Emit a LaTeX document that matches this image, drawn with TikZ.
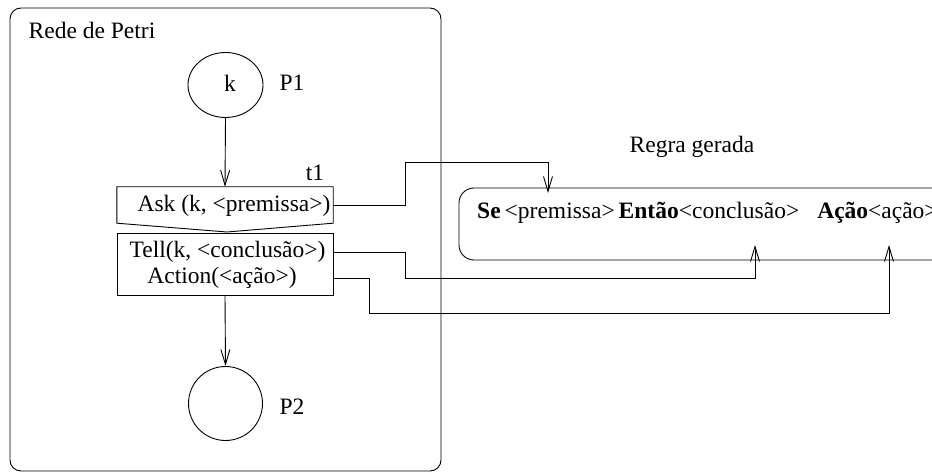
\documentclass[tikz,border=0pt]{standalone}
\usepackage{fontspec}
\setmainfont{Liberation Serif}
\usetikzlibrary{arrows.meta,shapes.geometric}
\begin{document}
\begin{tikzpicture}[x=1pt,y=-1pt,
  every node/.style={font=\fontsize{23.5}{28}\selectfont, inner sep=0pt},
  ln/.style={line width=0.9pt, black},
  arr/.style={ln, -{Straight Barb[length=15pt,width=9pt,line width=0.9pt]}},
  place/.style={draw, ln, circle, minimum size=74pt}]
\useasboundingbox (0,0) rectangle (932,473);
\clip (0,0) rectangle (932,473);

% outer frame
\draw[ln, rounded corners=11pt] (10,8) rectangle (441,471);
\node (title) at (92,30) {Rede de Petri};

% places
\node[draw, ln, ellipse, minimum width=75pt, minimum height=65pt] (p1) at (225.5,85) {};
\node (k) at (230,83) {k};
\node (p1l) at (292,83) {P1};
\node[place] (p2) at (225.5,403.5) {};
\node (p2l) at (292,407) {P2};

% transition
\node[minimum width=216pt, minimum height=36pt] (ask) at (225,205) {};
\draw[ln] (ask.south west) -- (ask.north west) -- (ask.north east) -- (ask.south east) -- (227,232) -- cycle;
\node (asktxt) at (234,206) {Ask (k, <premissa>)};
\node (t1) at (315,173) {t1};

\node[draw, ln, minimum width=216pt, minimum height=62pt] (tell) at (225,264) {};
\node (telltxt) at (227.5,252) {Tell(k, <conclusão>)};
\node (acttxt) at (222,278) {Action(<ação>)};

\draw[arr] (p1.south) -- (ask.north);
\draw[arr] (tell.south) -- (p2.north);

% generated rule
\node (regra) at (692,147) {Regra gerada};
\draw[ln, rounded corners=15pt] (459,188) rectangle (980,260);
\node[anchor=west] (rule) at (477,213) {\textbf{Se}\kern4pt<premissa>\kern4pt\textbf{Então}<conclusão>\hspace{18pt}\textbf{Ação}<ação>};

\coordinate (premin) at (548,193);
\coordinate (conin) at (755,245);
\coordinate (acin) at (889,245);

\draw[arr] (ask.east) -| (405,162) -| (premin);
\draw[arr] (tell.east |- telltxt) -| (405,278) -| (conin);
\draw[arr] (tell.east |- acttxt) -| (369,313) -| (acin);
\end{tikzpicture}
\end{document}
